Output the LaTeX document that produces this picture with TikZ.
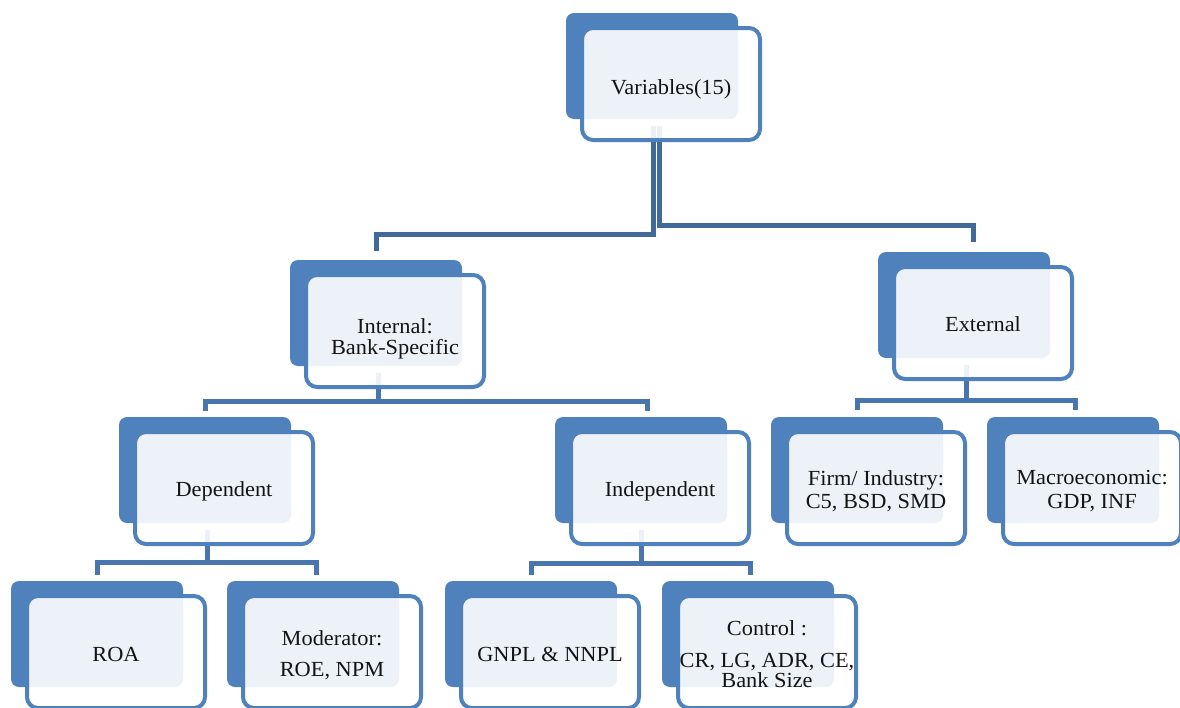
\documentclass[tikz,border=0pt]{standalone}
\usepackage{fontspec}
\setmainfont{Liberation Serif}[FakeStretch=1.04]
\usetikzlibrary{calc}
\pgfdeclarelayer{background}
\pgfsetlayers{background,main}
\definecolor{boxblue}{RGB}{79,129,189}
\definecolor{linedark}{RGB}{65,105,154}
\definecolor{linemid}{RGB}{74,118,176}
\definecolor{inktext}{RGB}{20,20,20}
\tikzset{
  backbox/.style={rectangle, rounded corners=8pt, fill=boxblue,
    minimum width=172pt, minimum height=106pt, inner sep=0pt, outer sep=0pt,
    anchor=north west},
  frontbox/.style={rectangle, rounded corners=11pt, draw=boxblue, line width=4pt,
    fill=white, fill opacity=0.9,
    minimum width=178pt, minimum height=112pt, inner sep=0pt, outer sep=0pt},
  cardtext/.style={inner sep=0pt, align=center,
    font=\fontsize{21.5}{24.5}\selectfont, text=inktext},
  topline/.style={draw=linedark, line width=5pt},
  subline/.style={draw=linemid, line width=5pt},
}
% a dark card with a light, outlined card laid over it, and its caption
\newcommand\orgpair[5][-3pt]{%
  \node[backbox] (#2-b) at (#3,#4) {};
  \node[frontbox, anchor=north west] (#2) at ([xshift=16pt,yshift=-15pt]#2-b.north west) {};
  \node[cardtext] (#2-t) at ([yshift=#1]#2.center) {#5};
}
\begin{document}
\begin{tikzpicture}[x=1pt,y=-1pt]
\useasboundingbox (0,0) rectangle (1180,707);

% cards
\orgpair[-5pt]{var}{566}{13}{Variables(15)}
\orgpair[-8pt]{int}{290}{260}{Internal:\\[-3pt]Bank-Specific}
\orgpair[-1pt]{ext}{878}{252}{External}
\orgpair{dep}{119}{417}{Dependent}
\orgpair{ind}{555}{417}{Independent}
\orgpair{firm}{771}{417}{Firm/ Industry:\\[-1pt]C5, BSD, SMD}
\orgpair{mac}{987}{417}{Macroeconomic:\\[-1pt]GDP, INF}
\orgpair[-2pt]{roa}{11}{581}{ROA}
\orgpair{mod}{227}{581}{Moderator:\\[7pt]ROE, NPM}
\orgpair[-2pt]{gn}{445}{581}{GNPL \& NNPL}
\orgpair[-2pt]{ctl}{662}{581}{Control :\\[8pt]CR, LG, ADR, CE,\\[-5pt]Bank Size}

% where each connector meets a child card
\coordinate (int-in)  at ([yshift=9pt]int-b.north);
\coordinate (ext-in)  at ([xshift=9pt,yshift=10pt]ext-b.north);
\coordinate (dep-in)  at ([yshift=6pt]dep-b.north);
\coordinate (ind-in)  at ([xshift=6pt,yshift=6pt]ind-b.north);
\coordinate (firm-in) at ([yshift=7pt]firm-b.north);
\coordinate (mac-in)  at ([xshift=2.5pt,yshift=7pt]mac-b.north);
\coordinate (roa-in)  at ([yshift=6pt]roa-b.north);
\coordinate (mod-in)  at ([xshift=3.5pt,yshift=6pt]mod-b.north);
\coordinate (gn-in)   at ([yshift=6pt]gn-b.north);
\coordinate (ctl-in)  at ([xshift=2.5pt,yshift=6pt]ctl-b.north);

% where each connector leaves a parent card
\coordinate (var-outA) at ([xshift=1pt,yshift=-7pt]var-b.south);
\coordinate (var-outB) at ([xshift=7.5pt,yshift=-7pt]var-b.south);
\coordinate (int-out)  at ([xshift=2pt,yshift=-7pt]int-b.south);
\coordinate (ext-out)  at ([xshift=2pt,yshift=-7pt]ext-b.south);
\coordinate (dep-out)  at ([xshift=2pt,yshift=-7pt]dep-b.south);
\coordinate (ind-out)  at ([yshift=-7pt]ind-b.south);

% heights of the horizontal bars
\coordinate (barA) at (0,234);
\coordinate (barB) at (0,225.5);
\coordinate (barC) at (0,401);
\coordinate (barD) at (0,400);
\coordinate (barE) at (0,562.5);
\coordinate (barF) at (0,563);

\begin{pgfonlayer}{background}
  \draw[topline] (var-outA) |- (int-in |- barA) -- (int-in);
  \draw[topline] (var-outB) |- (ext-in |- barB) -- (ext-in);

  \draw[subline] (int-out) -- (int-out |- barC);
  \draw[subline] (dep-in) |- (ind-in |- barC) -- (ind-in);

  \draw[subline] (ext-out) -- (ext-out |- barD);
  \draw[subline] (firm-in) |- (mac-in |- barD) -- (mac-in);

  \draw[subline] (dep-out) -- (dep-out |- barE);
  \draw[subline] (roa-in) |- (mod-in |- barE) -- (mod-in);

  \draw[subline] (ind-out) -- (ind-out |- barF);
  \draw[subline] (gn-in) |- (ctl-in |- barF) -- (ctl-in);
\end{pgfonlayer}
\end{tikzpicture}
\end{document}
